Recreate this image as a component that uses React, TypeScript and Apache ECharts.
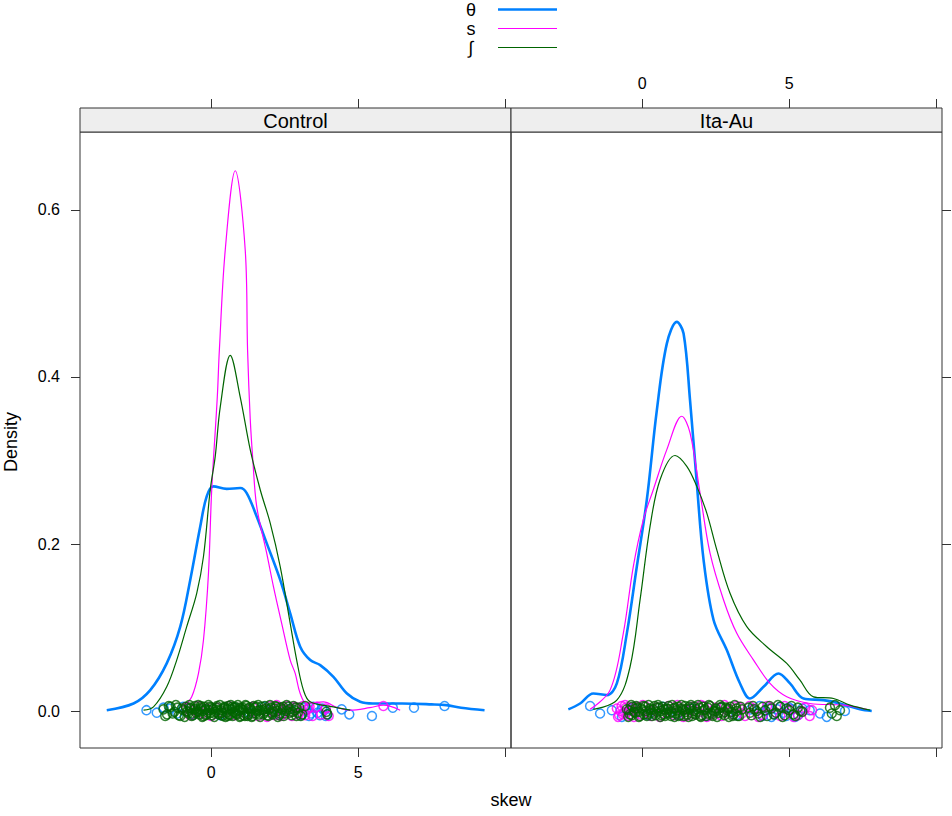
import React, { useEffect, useRef } from "react";
import * as echarts from "echarts";

// ---------- data ----------
const PANELS = ["Control", "Ita-Au"];
const SERIES_NAMES = ["θ", "s", "∫"];
const COLORS = ["#0080ff", "#ff00ff", "#006400"];
const LINE_WIDTHS = [2.6, 1.2, 1.2];

const X_TICKS = [0, 5, 10];
const X_LABELS = [0, 5];
const Y_TICKS = [0, 0.2, 0.4, 0.6];
const X_MIN = -4.46;
const X_MAX = 10.2;
const Y_MIN = -0.0443;
const Y_MAX = 0.6934;

// density curves, Control panel
const CTRL_THETA = [
  [-3.55, 0.001], [-2.64, 0.009], [-2.07, 0.025], [-1.51, 0.057], [-1.05, 0.101],
  [-0.71, 0.157], [-0.37, 0.221], [-0.15, 0.257], [0.08, 0.269], [0.53, 0.266],
  [0.99, 0.267], [1.21, 0.261], [1.55, 0.233], [1.89, 0.201], [2.35, 0.157],
  [2.69, 0.117], [3.03, 0.077], [3.37, 0.061], [3.71, 0.055], [4.16, 0.041],
  [4.62, 0.021], [5.07, 0.011], [5.5, 0.009], [6.5, 0.009], [7.5, 0.008],
  [8.0, 0.007], [8.5, 0.004], [9.3, 0.001],
];
const CTRL_S = [
  [-0.94, 0.005], [-0.66, 0.017], [-0.43, 0.045], [-0.26, 0.085], [-0.09, 0.165],
  [0.02, 0.265], [0.21, 0.376], [0.28, 0.432], [0.48, 0.552], [0.82, 0.647],
  [1.16, 0.552], [1.24, 0.432], [1.33, 0.35], [1.42, 0.3], [1.55, 0.245],
  [1.89, 0.189], [2.12, 0.149], [2.4, 0.105], [2.69, 0.061], [2.86, 0.045],
  [3.03, 0.021], [3.25, 0.009], [3.82, 0.011], [4.3, 0.004], [4.73, 0.001],
  [5.4, 0.004], [5.86, 0.007], [6.43, 0.001],
];
const CTRL_INT = [
  [-2.3, 0.001], [-1.96, 0.005], [-1.51, 0.029], [-1.17, 0.061], [-0.83, 0.101],
  [-0.49, 0.141], [-0.26, 0.185], [-0.03, 0.265], [0.14, 0.305], [0.31, 0.364],
  [0.65, 0.426], [0.99, 0.376], [1.33, 0.313], [1.67, 0.265], [2.01, 0.225],
  [2.35, 0.173], [2.69, 0.105], [2.91, 0.061], [3.14, 0.025], [3.37, 0.011],
  [4.16, 0.005], [4.73, 0.001],
];

// density curves, Ita-Au panel
const ITA_THETA = [
  [-2.51, 0.002], [-2.11, 0.009], [-1.66, 0.021], [-1.2, 0.019], [-0.86, 0.033],
  [-0.52, 0.093], [-0.18, 0.173], [0.16, 0.253], [0.5, 0.36], [0.84, 0.44],
  [1.18, 0.466], [1.41, 0.452], [1.63, 0.372], [1.86, 0.273], [2.09, 0.181],
  [2.43, 0.109], [2.88, 0.073], [3.33, 0.033], [3.67, 0.015], [4.13, 0.029],
  [4.64, 0.045], [5.03, 0.033], [5.49, 0.015], [6.17, 0.013], [6.73, 0.009],
  [7.41, 0.002], [7.81, 0.0],
];
const ITA_S = [
  [-1.77, 0.002], [-1.09, 0.025], [-0.64, 0.093], [-0.3, 0.173], [0.04, 0.229],
  [0.38, 0.265], [0.84, 0.313], [1.35, 0.353], [1.63, 0.333], [1.97, 0.261],
  [2.31, 0.189], [2.77, 0.133], [3.22, 0.093], [3.79, 0.061], [4.35, 0.033],
  [4.92, 0.017], [5.71, 0.009], [6.85, 0.007], [7.64, 0.002],
];
const ITA_INT = [
  [-1.66, 0.002], [-0.86, 0.013], [-0.41, 0.053], [-0.07, 0.133], [0.27, 0.221],
  [0.61, 0.277], [1.12, 0.306], [1.52, 0.293], [1.86, 0.269], [2.2, 0.237],
  [2.54, 0.193], [2.99, 0.141], [3.56, 0.101], [4.24, 0.077], [4.92, 0.057],
  [5.37, 0.037], [5.83, 0.017], [6.51, 0.015], [7.07, 0.007], [7.76, 0.001],
];

// rug points (x, jittered y), Control panel
const CTRL_THETA_RUG = [
  [-2.2, 0.001], [-1.85, -0.002], [-1.62, 0.004], [-1.4, 0.003], [-1.15, -0.003],
  [-0.95, 0.005], [-0.6, -0.004], [-0.2, 0.002], [0.3, -0.005], [0.8, 0.004],
  [1.3, -0.002], [1.8, 0.005], [2.3, -0.004], [2.7, 0.003], [3.05, -0.005],
  [3.15, 0.004], [3.25, 0.002], [3.33, -0.006], [3.4, -0.003], [3.48, 0.005],
  [3.55, 0.004], [3.62, -0.002], [3.7, -0.005], [3.78, 0.003], [3.85, 0.001],
  [3.9, -0.006], [3.95, -0.004], [4.44, 0.002], [4.7, -0.004], [5.47, -0.006],
  [6.18, 0.004], [6.9, 0.004], [7.94, 0.006],
];
const CTRL_S_RUG = [
  [-0.85, 0.004], [-0.72, -0.005], [-0.6, 0.001], [-0.45, 0.006], [-0.3, -0.003],
  [-0.15, 0.003], [0.0, -0.006], [0.2, 0.004], [0.4, -0.002], [0.6, 0.006],
  [0.8, -0.005], [1.0, 0.003], [1.2, -0.004], [1.4, 0.005], [1.6, -0.006],
  [1.8, 0.002], [1.9, -0.007], [2.0, 0.006], [2.08, 0.0], [2.15, -0.005],
  [2.23, 0.007], [2.3, 0.004], [2.38, -0.006], [2.45, -0.003], [2.53, 0.002],
  [2.6, 0.006], [2.68, -0.001], [2.75, -0.006], [2.83, 0.005], [2.9, 0.004],
  [2.98, -0.004], [3.05, 0.0], [3.12, 0.006], [3.2, -0.005], [3.28, 0.002],
  [3.35, 0.005], [3.45, -0.006], [3.6, 0.005], [3.75, -0.004], [3.9, 0.003],
  [4.0, -0.006], [5.86, 0.006],
];
const CTRL_INT_RUG = [
  [-1.62, 0.002], [-1.56, -0.006], [-1.5, -0.004], [-1.44, 0.006], [-1.38, 0.005],
  [-1.31, -0.003], [-1.25, -0.001], [-1.2, 0.007], [-1.15, 0.004], [-1.1, -0.005],
  [-1.05, -0.006], [-1.0, 0.003], [-0.95, 0.001], [-0.9, -0.007], [-0.86, 0.005],
  [-0.82, 0.0], [-0.78, -0.003], [-0.74, 0.007], [-0.7, 0.003], [-0.66, -0.006],
  [-0.62, -0.005], [-0.58, 0.002], [-0.55, 0.006], [-0.51, -0.002], [-0.48, 0.0],
  [-0.44, 0.007], [-0.4, -0.004], [-0.37, 0.002], [-0.33, 0.004], [-0.3, -0.007],
  [-0.26, -0.006], [-0.23, 0.005], [-0.2, 0.002], [-0.16, -0.004], [-0.12, -0.002],
  [-0.09, 0.007], [-0.05, 0.005], [-0.02, -0.002], [0.02, -0.005], [0.05, 0.002],
  [0.08, 0.003], [0.11, -0.007], [0.15, -0.001], [0.18, 0.004], [0.2, 0.006],
  [0.24, -0.003], [0.27, -0.004], [0.3, 0.007], [0.33, 0.001], [0.37, -0.005],
  [0.4, -0.006], [0.43, 0.003], [0.46, 0.004], [0.49, -0.007], [0.52, -0.002],
  [0.55, 0.002], [0.58, 0.006], [0.61, -0.004], [0.64, -0.005], [0.67, 0.007],
  [0.7, 0.002], [0.73, -0.006], [0.76, -0.001], [0.79, 0.004], [0.82, 0.005],
  [0.85, -0.003], [0.88, -0.004], [0.91, 0.007], [0.94, 0.001], [0.97, -0.007],
  [1.0, -0.006], [1.04, 0.002], [1.07, 0.004], [1.1, -0.005], [1.13, -0.002],
  [1.17, 0.007], [1.2, 0.006], [1.24, -0.006], [1.27, -0.004], [1.31, 0.004],
  [1.34, 0.002], [1.38, -0.007], [1.41, -0.006], [1.45, 0.006], [1.48, 0.004],
  [1.52, -0.003], [1.56, 0.0], [1.6, 0.007], [1.63, -0.004], [1.67, -0.007],
  [1.71, 0.005], [1.75, 0.001], [1.79, -0.002], [1.83, 0.006], [1.87, 0.003],
  [1.91, -0.005], [1.95, -0.006], [2.0, 0.007], [2.04, 0.004], [2.08, -0.004],
  [2.13, -0.001], [2.18, 0.006], [2.22, 0.005], [2.27, -0.007], [2.32, -0.005],
  [2.37, 0.004], [2.42, 0.002], [2.47, -0.006], [2.52, -0.003], [2.57, 0.007],
  [2.63, 0.005], [2.68, -0.002], [2.74, -0.005], [2.8, 0.006], [2.85, 0.001],
  [2.9, -0.006], [2.95, -0.002], [3.0, 0.004], [3.1, -0.004], [3.2, 0.006],
  [3.92, -0.001], [3.95, -0.004],
  [-0.8, -0.001], [-0.72, 0.004], [-0.64, -0.003], [-0.53, 0.003], [-0.42, -0.001],
  [-0.35, 0.006], [-0.28, 0.0], [-0.18, -0.005], [-0.07, 0.001], [0.0, 0.004],
  [0.1, -0.003], [0.22, 0.001], [0.35, -0.002], [0.45, 0.005], [0.56, -0.006],
  [0.63, 0.003], [0.72, 0.005], [0.8, -0.002], [0.9, 0.0], [0.99, 0.004],
  [1.09, 0.001], [1.15, -0.006], [1.25, 0.003], [1.36, 0.0], [1.43, -0.003],
  [1.54, 0.005], [1.65, 0.001], [1.77, -0.004], [1.85, 0.0], [1.97, 0.002],
  [2.06, -0.002], [2.15, 0.003], [2.25, 0.0], [2.35, -0.003], [2.45, 0.005],
  [2.55, 0.0], [2.66, 0.002], [2.77, -0.001], [2.88, 0.004], [3.05, -0.006],
];

// rug points, Ita-Au panel
const ITA_THETA_RUG = [
  [-1.77, 0.006], [-1.43, -0.003], [-1.03, 0.001], [-0.69, -0.007], [-0.3, 0.004],
  [0.2, -0.005], [0.7, 0.005], [1.2, -0.004], [1.7, 0.003], [2.2, -0.006],
  [2.7, 0.004], [3.2, -0.005], [3.7, 0.002], [4.0, 0.006], [4.1, -0.006],
  [4.2, 0.0], [4.3, 0.003], [4.4, -0.007], [4.5, -0.004], [4.6, 0.002],
  [4.7, 0.005], [4.8, -0.002], [4.9, -0.006], [5.0, 0.004], [5.1, 0.002],
  [5.2, -0.007], [5.3, -0.005], [5.45, 0.003], [5.7, 0.001], [6.05, -0.003],
  [6.28, -0.007], [6.9, 0.0],
];
const ITA_S_RUG = [
  [-0.86, 0.003], [-0.82, -0.007], [-0.78, -0.005], [-0.74, 0.0], [-0.7, 0.006],
  [-0.66, -0.004], [-0.62, -0.002], [-0.58, 0.007], [-0.55, 0.004], [-0.5, -0.001],
  [-0.45, -0.006], [-0.4, 0.004], [-0.35, 0.001], [-0.28, -0.007], [-0.2, 0.005],
  [-0.12, 0.0], [-0.05, -0.004], [0.02, 0.007], [0.1, 0.006], [0.2, -0.002],
  [0.3, -0.006], [0.4, 0.001], [0.5, 0.004], [0.6, -0.007], [0.7, -0.003],
  [0.8, 0.002], [0.9, 0.006], [1.0, -0.001], [1.1, -0.005], [1.2, 0.007],
  [1.3, 0.003], [1.4, -0.007], [1.5, -0.006], [1.6, 0.001], [1.7, 0.005],
  [1.8, -0.004], [1.9, -0.002], [2.0, 0.007], [2.1, 0.006], [2.2, -0.007],
  [2.3, -0.005], [2.4, 0.001], [2.5, 0.004], [2.6, -0.003], [2.7, -0.006],
  [2.8, 0.007], [2.9, 0.003], [3.0, -0.001], [3.1, -0.004], [3.2, 0.006],
  [3.3, 0.005], [3.4, -0.003], [3.5, -0.006], [3.65, 0.006], [3.8, 0.003],
  [3.95, -0.007], [4.1, -0.005], [4.25, 0.006], [4.4, 0.004], [4.55, -0.002],
  [4.7, -0.006], [4.85, 0.006], [5.0, 0.002], [5.15, -0.007], [5.3, -0.005],
  [5.45, 0.0], [5.55, 0.004], [5.7, -0.006], [5.78, 0.001],
];
const ITA_INT_RUG = [
  [-0.52, 0.002], [-0.47, -0.007], [-0.42, -0.004], [-0.37, 0.007], [-0.33, 0.005],
  [-0.28, -0.001], [-0.24, -0.002], [-0.2, 0.006], [-0.15, 0.004], [-0.11, -0.007],
  [-0.07, -0.006], [-0.03, 0.003], [0.02, 0.001], [0.06, -0.004], [0.1, 0.005],
  [0.14, 0.0], [0.18, -0.004], [0.22, 0.007], [0.26, 0.003], [0.3, -0.002],
  [0.34, -0.006], [0.38, 0.002], [0.42, 0.006], [0.46, -0.005], [0.5, -0.001],
  [0.54, 0.007], [0.58, 0.004], [0.62, -0.007], [0.66, -0.005], [0.7, 0.005],
  [0.74, 0.002], [0.78, -0.006], [0.82, -0.002], [0.86, 0.003], [0.9, 0.006],
  [0.94, -0.003], [0.98, -0.006], [1.02, 0.007], [1.06, 0.003], [1.1, -0.007],
  [1.14, -0.003], [1.18, 0.001], [1.22, 0.005], [1.26, -0.001], [1.3, -0.005],
  [1.34, 0.007], [1.38, 0.001], [1.42, -0.006], [1.46, 0.006], [1.5, 0.002],
  [1.54, -0.004], [1.58, -0.007], [1.62, 0.003], [1.66, 0.007], [1.7, -0.006],
  [1.74, 0.0], [1.78, 0.005], [1.82, -0.004], [1.86, -0.001], [1.9, 0.007],
  [1.95, 0.004], [2.0, -0.007], [2.04, -0.005], [2.08, 0.005], [2.13, 0.002],
  [2.18, -0.006], [2.22, -0.003], [2.27, 0.007], [2.31, 0.006], [2.36, -0.002],
  [2.4, -0.006], [2.45, 0.0], [2.5, 0.003], [2.55, -0.007], [2.6, -0.002],
  [2.65, 0.007], [2.7, 0.005], [2.75, -0.003], [2.8, -0.005], [2.85, 0.004],
  [2.9, 0.001], [2.95, -0.007], [3.0, 0.005], [3.05, -0.001], [3.1, -0.004],
  [3.15, 0.007], [3.2, 0.003], [3.25, -0.006], [3.3, -0.006], [3.35, 0.005],
  [3.4, 0.002], [3.62, 0.004], [3.67, -0.002], [3.72, -0.005], [3.77, 0.006],
  [3.82, 0.002], [3.9, 0.0], [3.95, -0.003], [4.02, -0.007], [4.1, 0.005],
  [4.18, 0.001], [4.25, -0.006], [4.33, 0.006], [4.4, 0.003], [4.48, -0.004],
  [4.55, -0.002], [4.62, 0.007], [4.7, 0.005], [4.78, -0.007], [4.85, -0.005],
  [4.92, 0.003], [5.0, 0.001], [5.08, 0.006], [5.15, -0.004], [5.22, -0.006],
  [5.3, 0.004], [5.38, 0.0], [5.45, -0.001], [6.39, 0.004], [6.45, -0.003],
  [6.56, 0.007], [6.62, -0.006], [6.73, 0.001],
  [-0.45, 0.001], [-0.35, -0.005], [-0.22, 0.003], [-0.1, -0.001], [0.04, 0.006],
  [0.16, -0.006], [0.28, 0.001], [0.4, -0.003], [0.52, 0.004], [0.64, 0.0],
  [0.76, -0.004], [0.88, 0.002], [1.0, -0.001], [1.12, 0.004], [1.24, -0.006],
  [1.36, 0.003], [1.48, -0.001], [1.6, 0.005], [1.72, -0.003], [1.84, 0.002],
  [1.97, -0.006], [2.1, 0.001], [2.24, 0.004], [2.38, -0.004], [2.52, 0.0],
  [2.66, 0.004], [2.8, -0.001], [2.94, 0.003], [3.08, -0.006], [3.22, 0.0],
];

const CURVES = [
  [CTRL_THETA, CTRL_S, CTRL_INT],
  [ITA_THETA, ITA_S, ITA_INT],
];
const RUGS = [
  [CTRL_THETA_RUG, CTRL_S_RUG, CTRL_INT_RUG],
  [ITA_THETA_RUG, ITA_S_RUG, ITA_INT_RUG],
];

// ---------- layout ----------
const FONT = "'Liberation Sans', Arial, Helvetica, sans-serif";
const GRID_TOP = 132;
const GRID_H = 616;
const STRIP_H = 24;
const PANEL_LEFTS = [80, 511];
const PANEL_W = 431;
const AXIS_COLOR = "#333";

export default function App() {
  const ref = useRef<HTMLDivElement>(null);

  useEffect(() => {
    document.body.style.margin = "0";
    if (!ref.current) return;
    const chart = echarts.init(ref.current, null, { renderer: "svg" });

    const tickStyle = { show: true, inside: false, length: 9, lineStyle: { color: AXIS_COLOR, width: 1 } };
    const labelBase = { color: "#000", fontSize: 16, fontFamily: FONT };

    const xAxes: any[] = [];
    const yAxes: any[] = [];
    PANELS.forEach((_, p) => {
      xAxes.push({
        type: "value", gridIndex: p, position: "bottom", min: X_MIN, max: X_MAX,
        axisLine: { show: false, onZero: false }, splitLine: { show: false },
        axisTick: { ...tickStyle, customValues: X_TICKS },
        axisLabel: { ...labelBase, show: p === 0, customValues: X_LABELS, margin: 16 },
      });
      xAxes.push({
        type: "value", gridIndex: p, position: "top", offset: STRIP_H, min: X_MIN, max: X_MAX,
        axisLine: { show: false, onZero: false }, splitLine: { show: false },
        axisTick: { ...tickStyle, customValues: X_TICKS },
        axisLabel: { ...labelBase, show: p === 1, customValues: X_LABELS, margin: 17 },
      });
      yAxes.push({
        type: "value", gridIndex: p, position: p === 0 ? "left" : "right",
        min: Y_MIN, max: Y_MAX,
        axisLine: { show: false, onZero: false }, splitLine: { show: false },
        axisTick: { ...tickStyle, customValues: Y_TICKS },
        axisLabel: {
          ...labelBase, show: p === 0, customValues: Y_TICKS, margin: 20,
          formatter: (v: number) => v.toFixed(1),
        },
      });
    });

    const series: any[] = [];
    PANELS.forEach((_, p) => {
      SERIES_NAMES.forEach((name, g) => {
        series.push({
          type: "line", name, xAxisIndex: p * 2, yAxisIndex: p,
          data: CURVES[p][g], showSymbol: false, smooth: 0.35,
          lineStyle: { color: COLORS[g], width: LINE_WIDTHS[g] },
          z: 2 + g * 2, silent: true,
        });
        series.push({
          type: "scatter", name, xAxisIndex: p * 2, yAxisIndex: p,
          data: RUGS[p][g], symbol: "circle", symbolSize: 9,
          itemStyle: { color: "rgba(0,0,0,0)", borderColor: COLORS[g], borderWidth: 1.5 },
          z: 3 + g * 2, silent: true,
        });
      });
    });

    const graphics: any[] = [];
    PANELS.forEach((name, p) => {
      graphics.push({
        type: "rect", z: 10,
        shape: { x: PANEL_LEFTS[p], y: GRID_TOP - STRIP_H, width: PANEL_W, height: STRIP_H },
        style: { fill: "#eeeeee", stroke: AXIS_COLOR, lineWidth: 1 },
      });
      graphics.push({
        type: "text", z: 11, x: PANEL_LEFTS[p] + PANEL_W / 2, y: GRID_TOP - STRIP_H / 2 + 1,
        style: { text: name, fill: "#000", font: `20px ${FONT}`, textAlign: "center", textVerticalAlign: "middle" },
      });
    });
    SERIES_NAMES.forEach((name, g) => {
      const y = 10 + g * 19;
      graphics.push({
        type: "text", x: 471, y,
        style: { text: name, fill: "#000", font: `18px ${FONT}`, lineHeight: 18, textAlign: "center", textVerticalAlign: "middle" },
      });
      graphics.push({
        type: "line",
        shape: { x1: 498, y1: y - 0.5, x2: 557, y2: y - 0.5 },
        style: { stroke: COLORS[g], lineWidth: LINE_WIDTHS[g] },
      });
    });
    graphics.push({
      type: "text", x: 11, y: 442, rotation: Math.PI / 2,
      style: { text: "Density", fill: "#000", font: `18px ${FONT}`, textAlign: "center", textVerticalAlign: "middle" },
    });
    graphics.push({
      type: "text", x: 511, y: 800,
      style: { text: "skew", fill: "#000", font: `18px ${FONT}`, textAlign: "center", textVerticalAlign: "middle" },
    });

    chart.setOption({
      animation: false,
      backgroundColor: "#fff",
      grid: PANELS.map((_, p) => ({
        left: PANEL_LEFTS[p], top: GRID_TOP, width: PANEL_W, height: GRID_H,
        show: true, borderColor: AXIS_COLOR, borderWidth: 1, backgroundColor: "transparent",
      })),
      xAxis: xAxes,
      yAxis: yAxes,
      series,
      graphic: graphics,
    });

    return () => chart.dispose();
  }, []);

  return <div ref={ref} style={{ width: 952, height: 816 }} />;
}
